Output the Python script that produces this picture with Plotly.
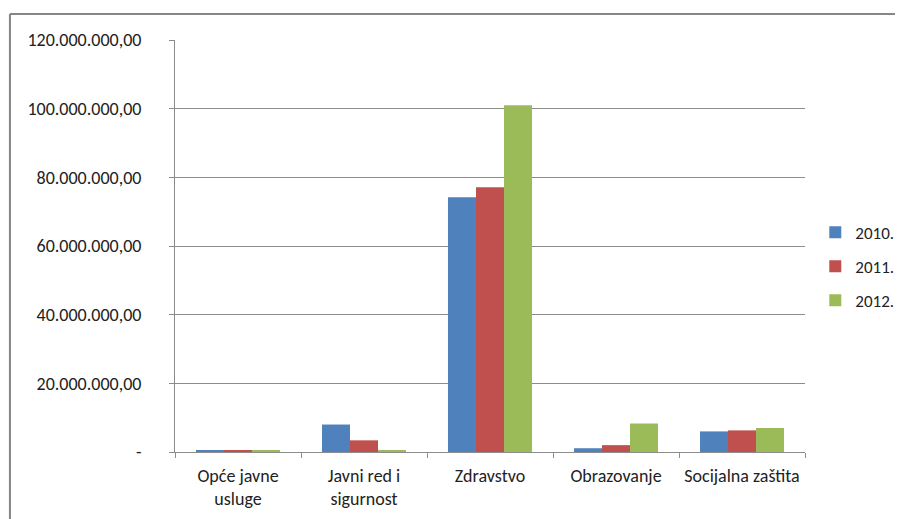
import plotly.graph_objects as go

# podaci
kategorije = ["Opće javne<br>usluge", "Javni red i<br>sigurnost", "Zdravstvo", "Obrazovanje", "Socijalna zaštita"]
god_2010 = [400000, 8000000, 74200000, 1100000, 6000000]
god_2011 = [400000, 3400000, 77100000, 2000000, 6300000]
god_2012 = [400000, 400000, 101000000, 8300000, 7000000]

y_tickvals = [0, 20000000, 40000000, 60000000, 80000000, 100000000, 120000000]
y_ticktext = ["-", "20.000.000,00", "40.000.000,00", "60.000.000,00",
              "80.000.000,00", "100.000.000,00", "120.000.000,00"]

FONT = "Carlito, Lato, Calibri, sans-serif"
GRID = "#8c8c8c"

fig = go.Figure()
for ime, vrijednosti, boja in [("2010.", god_2010, "#4F81BD"),
                               ("2011.", god_2011, "#C0504D"),
                               ("2012.", god_2012, "#9BBB59")]:
    fig.add_trace(go.Bar(x=kategorije, y=vrijednosti, name=ime, legendgroup=ime,
                         marker=dict(color=boja, line=dict(width=0))))

# stranica ima 8px margine u body-u, pa je figura 895x511
fig.update_layout(
    width=895, height=511,
    margin=dict(l=167, r=98, t=32, b=67),
    paper_bgcolor="white", plot_bgcolor="white",
    font=dict(family=FONT, size=18, color="#222222"),
    barmode="group", bargap=0.333, bargroupgap=0,
    legend=dict(xref="container", x=0.902, y=0.45, xanchor="left", yanchor="middle",
                tracegroupgap=9, font=dict(size=17)),
)

fig.update_xaxes(
    showgrid=False, showline=True, linecolor=GRID, linewidth=1,
    ticks="outside", ticklen=5, tickcolor=GRID, tickson="boundaries",
    ticklabelstandoff=7, automargin=False,
)
fig.update_yaxes(
    range=[0, 120000000], tickvals=y_tickvals, ticktext=y_ticktext,
    showgrid=True, gridcolor=GRID, gridwidth=1,
    showline=True, linecolor=GRID, linewidth=1, zeroline=False,
    ticks="outside", ticklen=5, tickcolor=GRID, ticklabelstandoff=24,
    automargin=False,
)

# okvir grafikona (gornji i lijevi rub)
fig.add_shape(type="line", xref="paper", yref="paper",
              x0=-0.262, x1=2, y0=1.063, y1=1.063,
              line=dict(color="#868686", width=2))
fig.add_shape(type="line", xref="paper", yref="paper",
              x0=-0.262, x1=-0.262, y0=1.063, y1=-1,
              line=dict(color="#868686", width=2))

fig.write_html("out.html")
